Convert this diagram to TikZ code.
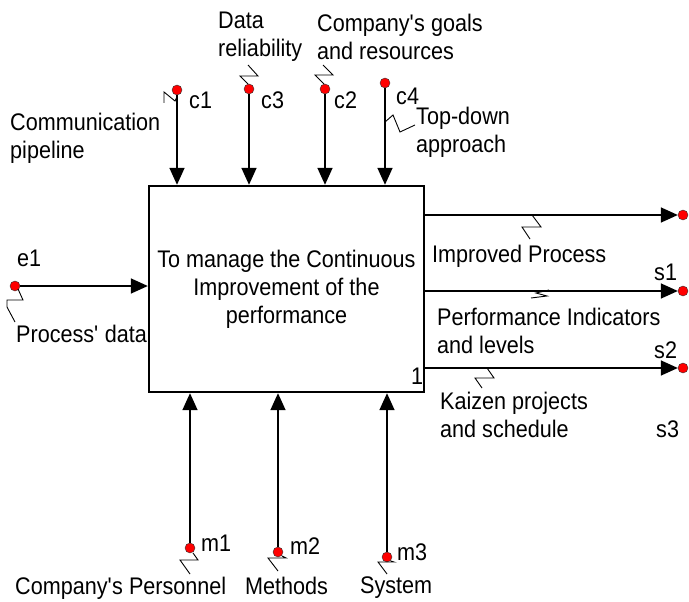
\documentclass[tikz,border=0pt]{standalone}
\usepackage{fontspec}
\setmainfont{Liberation Sans}[FakeStretch=0.9]
\usepackage{tikz}
\usetikzlibrary{arrows.meta}
\usetikzlibrary{calc}
\usetikzlibrary{positioning}

\newcommand{\apos}{\textquotesingle}

\tikzset{
    box/.style={draw, line width=2.4pt, minimum width=275pt, minimum height=206pt,
        inner sep=0pt, align=center},
    pin/.style={circle, fill=red, draw=black!80, line width=0.4pt, inner sep=0pt,
        minimum size=10pt},
    flow/.style={-{Triangle[length=17pt,width=15pt]}, line width=1.6pt},
    tag/.style={anchor=north west, inner sep=0pt, align=left},
    zig/.style={line width=0.9pt},
}

\begin{document}
\begin{tikzpicture}[x=1pt, y=-1pt, font=\fontsize{24}{28}\selectfont]
        \useasboundingbox (0,0) rectangle (689,602);

        % activity
        \node[box] (fn) at (286.5,289) {To manage the Continuous\\
            Improvement of the\\ performance};
        \node[tag] (num) at (411,368) {1};

        % controls
        \node[pin] (c1) at (177,90) {}; \node[tag] (lc1) at (189,92) {c1};
        \node[pin] (c3) at (249,89) {}; \node[tag] (lc3) at (261,92) {c3};
        \node[pin] (c2) at (325,89) {}; \node[tag] (lc2) at (334,92) {c2};
        \node[pin] (c4) at (385,83) {}; \node[tag] (lc4) at (396,88) {c4};

        \draw[flow] (c1) -- (c1 |- fn.north);
        \draw[flow] (c3) -- (c3 |- fn.north);
        \draw[flow] (c2) -- (c2 |- fn.north);
        \draw[flow] (c4) -- (c4 |- fn.north);

        \node[tag] (tc1) at (10,113) {Communication\\pipeline};
        \node[tag] (tc3) at (218,12) {Data\\reliability};
        \node[tag] (tc2) at (317,14) {Company\apos s goals\\and resources};
        \node[tag] (tc4) at (416,107) {Top-down\\approach};

        \draw[zig] (164,103) -- (164,92) -- (175,101) -- (177,97);
        \draw[zig] (248,65) -- (258,76) -- (240,76) -- (248,84);
        \draw[zig] (323,65) -- (333,75) -- (315,75) -- (324,84);
        \draw[zig] (385,122) -- (393,115) -- (400,132) -- (415,125);

        % input
        \node[pin] (e1) at (15,286) {}; \node[tag] (le1) at (17,250) {e1};
        \draw[flow] (e1) -- (e1 -| fn.west);
        \node[tag] (te1) at (16,325) {Process\apos\ data};
        \draw[zig] (18,289) -- (23,300) -- (7,300) -- (7,307) -- (15,322);

        % outputs
        \node[pin] (s1) at (683,215) {}; \node[tag] (ls1) at (654,264) {s1};
        \node[pin] (s2) at (683,291) {}; \node[tag] (ls2) at (654,342) {s2};
        \node[pin] (s3) at (683,368) {}; \node[tag] (ls3) at (656,421) {s3};

        \draw[flow] (fn.east |- s1) -- (s1);
        \draw[flow] (fn.east |- s2) -- (s2);
        \draw[flow] (fn.east |- s3) -- (s3);

        \node[tag] (ts1) at (432,245) {Improved Process};
        \node[tag] (ts2) at (437,308) {Performance Indicators\\and levels};
        \node[tag] (ts3) at (440,392) {Kaizen projects\\and schedule};

        \draw[zig] (532,215) -- (541,227) -- (522,227) -- (530,239);
        \draw[zig] (531,298) -- (547,296) -- (536,293) -- (549,290);
        \draw[zig] (487,368) -- (494,378) -- (475,378) -- (482,388);

        % mechanisms
        \node[pin] (m1) at (190,548) {}; \node[tag] (lm1) at (201,535) {m1};
        \node[pin] (m2) at (278,552) {}; \node[tag] (lm2) at (290,538) {m2};
        \node[pin] (m3) at (387,557) {}; \node[tag] (lm3) at (397,544) {m3};

        \draw[flow] (m1) -- (m1 |- fn.south);
        \draw[flow] (m2) -- (m2 |- fn.south);
        \draw[flow] (m3) -- (m3 |- fn.south);

        \node[tag] (tm1) at (15,577) {Company\apos s Personnel};
        \node[tag] (tm2) at (245,577) {Methods};
        \node[tag] (tm3) at (360,577) {System};

        \draw[zig] (193,553) -- (198,560) -- (180,560) -- (190,574);
        \draw[zig] (282,556) -- (286,558) -- (268,558) -- (278,571);
        \draw[zig] (391,561) -- (394,562) -- (378,562) -- (387,574);
\end{tikzpicture}
\end{document}
